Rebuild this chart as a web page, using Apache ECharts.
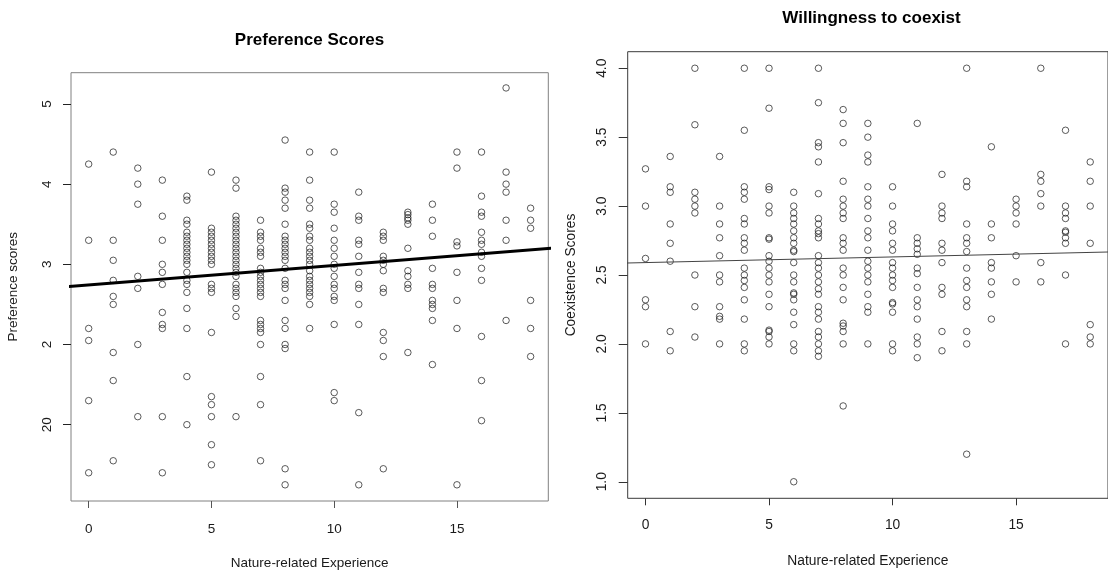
<!DOCTYPE html>
<html>
<head>
<meta charset="utf-8">
<script src="https://cdn.jsdelivr.net/npm/echarts@6/dist/echarts.min.js"></script>
<style>
  html, body { margin: 0; padding: 0; background: #fff; }
  #chart { width: 1108px; height: 575px; }
</style>
</head>
<body>
<div id="chart"></div>
<script>
// Nature-related experience levels (x values shared by both panels)
const experienceLevels = [0, 1, 2, 3, 4, 5, 6, 7, 8, 9, 10, 11, 12, 13, 14, 15, 16, 17, 18];

// Preference scores, one list per experience level
const preferenceScores = [
  [4.25, 3.3, 2.2, 2.05, 1.3, 0.4],
  [4.4, 3.3, 3.05, 2.8, 2.6, 2.5, 1.9, 1.55, 0.55],
  [4.2, 4.0, 3.75, 2.85, 2.7, 2.0, 1.1],
  [4.05, 3.6, 3.3, 3.0, 2.9, 2.75, 2.4, 2.25, 2.2, 1.1, 0.4],
  [3.85, 3.8, 3.55, 3.5, 3.4, 3.35, 3.3, 3.25, 3.2, 3.15, 3.1, 3.05, 3.0, 2.9, 2.8, 2.75, 2.65, 2.45, 2.2, 1.6, 1.0],
  [4.15, 3.45, 3.4, 3.35, 3.3, 3.25, 3.2, 3.15, 3.1, 3.05, 3.0, 2.75, 2.7, 2.65, 2.15, 1.35, 1.25, 1.1, 0.75, 0.5],
  [4.05, 3.95, 3.6, 3.55, 3.5, 3.45, 3.4, 3.35, 3.3, 3.25, 3.2, 3.15, 3.1, 3.05, 3.0, 2.95, 2.9, 2.85, 2.75, 2.7, 2.65, 2.6, 2.45, 2.35, 1.1],
  [3.55, 3.4, 3.35, 3.3, 3.2, 3.15, 3.1, 2.95, 2.9, 2.85, 2.8, 2.75, 2.7, 2.65, 2.6, 2.3, 2.25, 2.2, 2.15, 2.0, 1.6, 1.25, 0.55],
  [4.55, 3.95, 3.9, 3.8, 3.7, 3.5, 3.35, 3.3, 3.25, 3.2, 3.15, 3.1, 3.05, 2.95, 2.8, 2.75, 2.7, 2.55, 2.3, 2.2, 2.0, 1.95, 0.45, 0.25],
  [4.4, 4.05, 3.8, 3.7, 3.5, 3.45, 3.35, 3.3, 3.2, 3.15, 3.1, 3.05, 3.0, 2.92, 2.85, 2.8, 2.75, 2.7, 2.65, 2.6, 2.5, 2.2],
  [4.4, 3.75, 3.65, 3.45, 3.3, 3.2, 3.1, 3.0, 2.95, 2.85, 2.75, 2.7, 2.6, 2.55, 2.25, 1.4, 1.3],
  [3.9, 3.6, 3.55, 3.3, 3.25, 3.1, 2.9, 2.75, 2.7, 2.5, 2.25, 1.15, 0.25],
  [3.4, 3.35, 3.3, 3.1, 3.05, 3.0, 2.92, 2.7, 2.65, 2.15, 2.05, 1.85, 0.45],
  [3.65, 3.62, 3.58, 3.55, 3.5, 3.2, 2.92, 2.85, 2.75, 2.7, 1.9],
  [3.75, 3.55, 3.35, 2.95, 2.75, 2.7, 2.55, 2.5, 2.45, 2.3, 1.75],
  [4.4, 4.2, 3.28, 3.23, 2.9, 2.55, 2.2, 0.25],
  [4.4, 3.85, 3.65, 3.6, 3.4, 3.3, 3.25, 3.15, 3.1, 2.95, 2.8, 2.1, 1.55, 1.05],
  [5.2, 4.15, 4.0, 3.9, 3.55, 3.3, 2.3],
  [3.7, 3.55, 3.45, 2.55, 2.2, 1.85]
];

// Coexistence scores, one list per experience level
const coexistenceScores = [
  [3.27, 3.0, 2.62, 2.32, 2.27, 2.0],
  [3.36, 3.14, 3.1, 2.87, 2.73, 2.6, 2.09, 1.95],
  [4.0, 3.59, 3.1, 3.05, 3.0, 2.95, 2.5, 2.27, 2.05],
  [3.36, 3.0, 2.87, 2.77, 2.64, 2.5, 2.45, 2.27, 2.2, 2.18, 2.0],
  [4.0, 3.55, 3.14, 3.1, 3.05, 2.91, 2.87, 2.77, 2.73, 2.68, 2.55, 2.5, 2.46, 2.41, 2.32, 2.18, 2.0, 1.95],
  [4.0, 3.71, 3.14, 3.12, 3.0, 2.95, 2.77, 2.76, 2.64, 2.6, 2.55, 2.5, 2.45, 2.36, 2.27, 2.1, 2.09, 2.05, 2.0],
  [3.1, 3.0, 2.95, 2.91, 2.87, 2.82, 2.77, 2.73, 2.68, 2.67, 2.59, 2.5, 2.45, 2.37, 2.36, 2.32, 2.23, 2.14, 2.0, 1.95, 1.0],
  [4.0, 3.75, 3.46, 3.43, 3.32, 3.09, 2.91, 2.87, 2.82, 2.8, 2.77, 2.64, 2.59, 2.55, 2.5, 2.45, 2.4, 2.36, 2.27, 2.23, 2.18, 2.09, 2.05, 2.0, 1.95, 1.91],
  [3.7, 3.6, 3.46, 3.18, 3.05, 3.0, 2.95, 2.91, 2.77, 2.73, 2.68, 2.55, 2.5, 2.41, 2.32, 2.15, 2.13, 2.09, 2.0, 1.55],
  [3.6, 3.5, 3.37, 3.32, 3.14, 3.05, 3.0, 2.91, 2.82, 2.77, 2.68, 2.6, 2.55, 2.5, 2.45, 2.36, 2.27, 2.23, 2.0],
  [3.14, 3.0, 2.87, 2.82, 2.73, 2.68, 2.59, 2.55, 2.5, 2.46, 2.41, 2.3, 2.29, 2.23, 2.0, 1.95],
  [3.6, 2.77, 2.73, 2.69, 2.65, 2.55, 2.51, 2.41, 2.32, 2.27, 2.18, 2.05, 2.0, 1.9],
  [3.23, 3.0, 2.95, 2.91, 2.73, 2.68, 2.59, 2.41, 2.36, 2.09, 1.95],
  [4.0, 3.18, 3.14, 2.87, 2.77, 2.73, 2.67, 2.55, 2.46, 2.41, 2.32, 2.27, 2.09, 2.0, 1.2],
  [3.43, 2.87, 2.77, 2.59, 2.55, 2.45, 2.36, 2.18],
  [3.05, 3.0, 2.95, 2.87, 2.64, 2.45],
  [4.0, 3.23, 3.18, 3.09, 3.0, 2.59, 2.45],
  [3.55, 3.0, 2.95, 2.91, 2.82, 2.81, 2.77, 2.73, 2.5, 2.0],
  [3.32, 3.18, 3.0, 2.73, 2.14, 2.05, 2.0]
];

// Fitted lines: [intercept, slope]
const preferenceFit = [2.743, 0.0243];
const coexistenceFit = [2.590, 0.0041];

// Tick positions and their labels
const xTicks = [0, 5, 10, 15];
const preferenceTicks = [1, 2, 3, 4, 5];
const preferenceTickLabels = ['20', '2', '3', '4', '5'];
const coexistenceTicks = [1, 1.5, 2, 2.5, 3, 3.5, 4];
const coexistenceTickLabels = ['1.0', '1.5', '2.0', '2.5', '3.0', '3.5', '4.0'];

const FONT = '"Liberation Sans", Arial, sans-serif';
const TEXT = '#1a1a1a';

function toPoints(levels, lists) {
  const pts = [];
  levels.forEach((x, i) => lists[i].forEach(y => pts.push([x, y])));
  return pts;
}
function fitLine(fit) {
  // endpoints well outside the plot; the grid clips them to the frame
  return [-2, 21].map(x => [x, fit[0] + fit[1] * x]);
}

function xAxisFor(gridIndex, nameGap, labelMargin, fontSize, tickColor) {
  return {
    type: 'value', gridIndex, min: -0.72, max: 18.72,
    name: 'Nature-related Experience', nameLocation: 'middle', nameGap,
    nameTextStyle: { fontFamily: FONT, fontSize, color: TEXT },
    axisLine: { show: false, onZero: false },
    splitLine: { show: false },
    axisTick: { show: true, inside: false, length: 7, customValues: xTicks, lineStyle: { color: tickColor, width: 1 } },
    axisLabel: { customValues: xTicks, margin: labelMargin, fontFamily: FONT, fontSize, color: TEXT }
  };
}

const chart = echarts.init(document.getElementById('chart'), null, { renderer: 'canvas' });

chart.setOption({
  animation: false,
  backgroundColor: '#ffffff',
  graphic: [
    { type: 'text', x: 309.5, y: 40, silent: true,
      style: { text: 'Preference Scores', textAlign: 'center', textVerticalAlign: 'middle',
               font: 'bold 17px ' + FONT, fill: '#000' } },
    { type: 'text', x: 871.5, y: 18, silent: true,
      style: { text: 'Willingness to coexist', textAlign: 'center', textVerticalAlign: 'middle',
               font: 'bold 17px ' + FONT, fill: '#000' } }
  ],
  grid: [
    { left: 71, top: 72.7, width: 477.3, height: 432.3, show: true, borderColor: '#808080', borderWidth: 1, backgroundColor: 'transparent' },
    { left: 627.7, top: 51.7, width: 487.9, height: 446.6, show: true, borderColor: '#3a3a3a', borderWidth: 1, backgroundColor: 'transparent' }
  ],
  xAxis: [
    xAxisFor(0, 55, 21, 13.5, '#555'),
    xAxisFor(1, 56, 20, 13.8, '#333')
  ],
  yAxis: [
    {
      type: 'value', gridIndex: 0, min: 0.048, max: 5.39,
      name: 'Preference scores', nameLocation: 'middle', nameRotate: 90, nameGap: 51,
      nameTextStyle: { fontFamily: FONT, fontSize: 13.5, color: TEXT },
      axisLine: { show: false, onZero: false }, splitLine: { show: false },
      axisTick: { show: true, length: 8, customValues: preferenceTicks, lineStyle: { color: '#222', width: 1 } },
      axisLabel: {
        customValues: preferenceTicks, rotate: 90, margin: 17,
        fontFamily: FONT, fontSize: 13.5, color: TEXT,
        formatter: v => preferenceTickLabels[preferenceTicks.indexOf(v)]
      }
    },
    {
      type: 'value', gridIndex: 1, min: 0.88, max: 4.12,
      name: 'Coexistence Scores', nameLocation: 'middle', nameRotate: 90, nameGap: 50,
      nameTextStyle: { fontFamily: FONT, fontSize: 13.8, color: TEXT },
      axisLine: { show: false, onZero: false }, splitLine: { show: false },
      axisTick: { show: true, length: 9, customValues: coexistenceTicks, lineStyle: { color: '#333', width: 1 } },
      axisLabel: {
        customValues: coexistenceTicks, rotate: 90, margin: 19,
        fontFamily: FONT, fontSize: 13.8, color: TEXT,
        formatter: v => coexistenceTickLabels[coexistenceTicks.indexOf(v)]
      }
    }
  ],
  series: [
    {
      type: 'scatter', xAxisIndex: 0, yAxisIndex: 0, silent: true,
      data: toPoints(experienceLevels, preferenceScores),
      symbol: 'circle', symbolSize: 6.5,
      itemStyle: { color: 'rgba(0,0,0,0)', borderColor: '#1a1a1a', borderWidth: 0.9 }
    },
    {
      type: 'line', xAxisIndex: 0, yAxisIndex: 0, silent: true, clip: true,
      data: fitLine(preferenceFit), showSymbol: false,
      lineStyle: { color: '#000', width: 3 }
    },
    {
      type: 'scatter', xAxisIndex: 1, yAxisIndex: 1, silent: true,
      data: toPoints(experienceLevels, coexistenceScores),
      symbol: 'circle', symbolSize: 6.5,
      itemStyle: { color: 'rgba(0,0,0,0)', borderColor: '#1a1a1a', borderWidth: 0.9 }
    },
    {
      type: 'line', xAxisIndex: 1, yAxisIndex: 1, silent: true, clip: true,
      data: fitLine(coexistenceFit), showSymbol: false,
      lineStyle: { color: '#444', width: 1.2 }
    }
  ]
});
</script>
</body>
</html>
